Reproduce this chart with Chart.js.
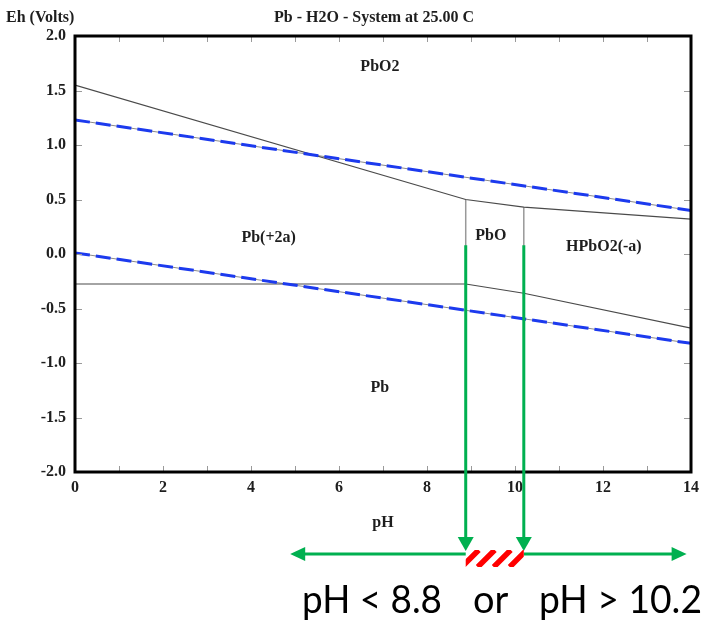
<!DOCTYPE html>
<html>
<head>
<meta charset="utf-8">
<script src="https://cdn.jsdelivr.net/npm/chart.js@4/dist/chart.umd.min.js"></script>
<style>
html,body{margin:0;padding:0;background:#fff;}
#wrap{width:712px;height:627px;}
</style>
</head>
<body>
<div id="wrap"><canvas id="c" width="712" height="627"></canvas></div>
<script>
// ---- data ----
const boundaryPH   = [0, 8.88, 10.2, 14];
const pbo2Eh       = [1.55, 0.50, 0.43, 0.32];      // upper stability boundary of PbO2
const pbEh         = [-0.275, -0.275, -0.36, -0.68]; // Pb metal boundary
const pboLeftPH    = [8.88, 8.88];
const pboLeftEh    = [0.50, -0.275];
const pboRightPH   = [10.2, 10.2];
const pboRightEh   = [0.43, -0.36];
const waterPH      = [0, 14];
const o2Eh         = [1.23, 0.40];
const h2Eh         = [0.01, -0.82];

const regionNames  = ['PbO2', 'Pb(+2a)', 'PbO', 'HPbO2(-a)', 'Pb'];
const regionPH     = [6.93, 4.4, 9.45, 12.02, 6.93];
const regionEh     = [1.72, 0.15, 0.165, 0.065, -1.23];

const xTicks       = [0, 2, 4, 6, 8, 10, 12, 14];
const yTicks       = [-2.0, -1.5, -1.0, -0.5, 0.0, 0.5, 1.0, 1.5, 2.0];
const xMinorTicks  = [1, 2, 3, 4, 5, 6, 7, 8, 9, 10, 11, 12, 13];
const yMinorTicks  = [-1.5, -1.0, -0.5, 0.0, 0.5, 1.0, 1.5];

const limitPH      = [8.88, 10.2];   // green arrows
const limitTopEh   = 0.08;
const arrowSpanPH  = [4.89, 13.9];   // horizontal arrow tips
const rangeText    = ['pH < 8.8', 'or', 'pH > 10.2'];

const chartTitle   = 'Pb - H2O - System at 25.00 C';
const yAxisTitle   = 'Eh (Volts)';
const xAxisTitle   = 'pH';

// ---- styling ----
const serifBold = 'bold 16px "Liberation Serif", "Times New Roman", serif';
const textDark = '#1e1e1e';
const lineGray = '#4a4a4a';
const blue = 'rgb(28,58,238)';
const green = '#00B050';

function pts(xs, ys) { return xs.map((v, i) => ({x: v, y: ys[i]})); }

const overlay = {
  id: 'overlay',
  afterDraw(chart) {
    const {ctx, chartArea: a, scales: {x, y}} = chart;
    ctx.save();
    // minor ticks
    ctx.strokeStyle = '#9a9a9a';
    ctx.lineWidth = 1;
    ctx.beginPath();
    xMinorTicks.forEach(v => {
      const px = Math.round(x.getPixelForValue(v)) + 0.5;
      ctx.moveTo(px, a.bottom); ctx.lineTo(px, a.bottom - 6);
      ctx.moveTo(px, a.top); ctx.lineTo(px, a.top + 6);
    });
    yMinorTicks.forEach(v => {
      const py = Math.round(y.getPixelForValue(v)) + 0.5;
      ctx.moveTo(a.left, py); ctx.lineTo(a.left + 7, py);
      ctx.moveTo(a.right, py); ctx.lineTo(a.right - 7, py);
    });
    ctx.stroke();
    // frame
    ctx.strokeStyle = '#000';
    ctx.lineWidth = 3;
    ctx.strokeRect(a.left, a.top, a.right - a.left, a.bottom - a.top);

    // region labels
    ctx.font = serifBold;
    ctx.fillStyle = textDark;
    ctx.textAlign = 'center';
    ctx.textBaseline = 'middle';
    regionNames.forEach((t, i) => {
      ctx.fillText(t, x.getPixelForValue(regionPH[i]), y.getPixelForValue(regionEh[i]));
    });
    // titles
    ctx.fillText(chartTitle, 374, 18);
    ctx.textAlign = 'left';
    ctx.fillText(yAxisTitle, 6, 18);

    // green vertical arrows
    const rowY = a.bottom + 80;
    ctx.strokeStyle = green;
    ctx.fillStyle = green;
    ctx.lineWidth = 3;
    const topPy = y.getPixelForValue(limitTopEh);
    limitPH.forEach(v => {
      const px = x.getPixelForValue(v);
      ctx.beginPath();
      ctx.moveTo(px, topPy); ctx.lineTo(px, rowY - 14);
      ctx.stroke();
      ctx.beginPath();
      ctx.moveTo(px - 8, rowY - 15); ctx.lineTo(px + 8, rowY - 15); ctx.lineTo(px, rowY - 1);
      ctx.closePath(); ctx.fill();
    });
    // horizontal arrows
    const p1 = x.getPixelForValue(limitPH[0]);
    const p2 = x.getPixelForValue(limitPH[1]);
    const lt = x.getPixelForValue(arrowSpanPH[0]);
    const rt = x.getPixelForValue(arrowSpanPH[1]);
    const hy = rowY + 2;
    ctx.beginPath();
    ctx.moveTo(lt + 12, hy); ctx.lineTo(p1, hy);
    ctx.moveTo(p2, hy); ctx.lineTo(rt - 12, hy);
    ctx.stroke();
    ctx.beginPath();
    ctx.moveTo(lt, hy); ctx.lineTo(lt + 15, hy - 7); ctx.lineTo(lt + 15, hy + 7); ctx.closePath(); ctx.fill();
    ctx.beginPath();
    ctx.moveTo(rt, hy); ctx.lineTo(rt - 15, hy - 7); ctx.lineTo(rt - 15, hy + 7); ctx.closePath(); ctx.fill();

    // red hatched region
    const hTop = rowY - 2, hH = 17;
    ctx.save();
    ctx.beginPath();
    ctx.rect(p1, hTop, p2 - p1, hH);
    ctx.clip();
    ctx.strokeStyle = '#ff0000';
    ctx.lineWidth = 5.5;
    ctx.beginPath();
    for (let sx = p1 - 20; sx < p2 + 20; sx += 16) {
      ctx.moveTo(sx, hTop + hH); ctx.lineTo(sx + hH, hTop);
    }
    ctx.stroke();
    ctx.restore();

    // range text
    ctx.fillStyle = '#000';
    ctx.font = '38px Lato, "Liberation Sans", sans-serif';
    ctx.textAlign = 'left';
    ctx.textBaseline = 'alphabetic';
    ctx.fillText(rangeText[0], 302, 613, 140);
    ctx.fillText(rangeText[1], 473, 613, 36);
    ctx.fillText(rangeText[2], 539, 613, 163);
    ctx.restore();
  }
};

new Chart(document.getElementById('c'), {
  type: 'scatter',
  data: {
    datasets: [
      {data: pts(waterPH, o2Eh), showLine: true, borderColor: blue, borderWidth: 3, borderDash: [15, 6], pointRadius: 0, order: 0},
      {data: pts(waterPH, h2Eh), showLine: true, borderColor: blue, borderWidth: 3, borderDash: [15, 6], pointRadius: 0, order: 0},
      {data: pts(waterPH, o2Eh), showLine: true, borderColor: '#8a8a8a', borderWidth: 1, pointRadius: 0, order: 2},
      {data: pts(waterPH, h2Eh), showLine: true, borderColor: '#8a8a8a', borderWidth: 1, pointRadius: 0, order: 2},
      {data: pts(boundaryPH, pbo2Eh), showLine: true, borderColor: lineGray, borderWidth: 1.2, pointRadius: 0, order: 1},
      {data: pts(boundaryPH, pbEh), showLine: true, borderColor: lineGray, borderWidth: 1.2, pointRadius: 0, order: 1},
      {data: pts(pboLeftPH, pboLeftEh), showLine: true, borderColor: '#999', borderWidth: 1.5, pointRadius: 0, order: 1},
      {data: pts(pboRightPH, pboRightEh), showLine: true, borderColor: '#999', borderWidth: 1.5, pointRadius: 0, order: 1}
    ]
  },
  options: {
    responsive: false,
    animation: false,
    devicePixelRatio: 1,
    layout: {padding: {top: 36, right: 21, left: 0, bottom: 0}},
    plugins: {legend: {display: false}, tooltip: {enabled: false}, title: {display: false}},
    scales: {
      x: {
        type: 'linear', min: 0, max: 14,
        afterBuildTicks: s => { s.ticks = xTicks.map(v => ({value: v})); },
        grid: {display: false, drawTicks: false},
        border: {display: false},
        ticks: {font: {family: '"Liberation Serif", serif', size: 16, weight: 'bold'}, color: textDark, padding: 6, maxRotation: 0, autoSkip: false, callback: v => String(v)},
        title: {display: true, text: xAxisTitle, color: textDark, font: {family: '"Liberation Serif", serif', size: 16, weight: 'bold'}, padding: {top: 0, bottom: 95}},
        afterFit: s => { s.height = 155; }
      },
      y: {
        type: 'linear', min: -2, max: 2,
        afterBuildTicks: s => { s.ticks = yTicks.map(v => ({value: v})); },
        grid: {display: false, drawTicks: false},
        border: {display: false},
        ticks: {font: {family: '"Liberation Serif", serif', size: 16, weight: 'bold'}, color: textDark, padding: 9, autoSkip: false, callback: v => Number(v).toFixed(1)},
        afterFit: s => { s.width = 75; }
      }
    }
  },
  plugins: [overlay]
});
</script>
</body>
</html>
